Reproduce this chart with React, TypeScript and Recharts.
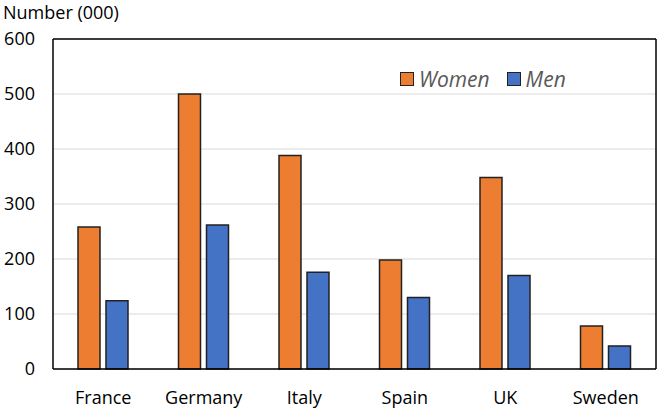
import React from "react";
import {
  BarChart,
  Bar,
  XAxis,
  YAxis,
  CartesianGrid,
  Legend,
  ReferenceLine,
} from "recharts";

const countries = ["France", "Germany", "Italy", "Spain", "UK", "Sweden"];
const women = [258, 500, 388, 198, 348, 78];
const men = [124, 262, 176, 130, 170, 42];
const majorTicks = [0, 100, 200, 300, 400, 500, 600];
const minorTicks = [50, 150, 250, 350, 450, 550];

const data = countries.map((country, i) => ({
  country,
  Women: women[i],
  Men: men[i],
}));

const FONT = "'Open Sans', sans-serif";
const ORANGE = "#ED7D31";
const BLUE = "#4472C4";

const LegendContent = () => (
  <div style={{ display: "flex", fontFamily: FONT, fontSize: 21, fontStyle: "italic", color: "#595959", lineHeight: "24px" }}>
    {[
      { name: "Women", color: ORANGE },
      { name: "Men", color: BLUE },
    ].map((item) => (
      <div key={item.name} style={{ display: "flex", alignItems: "center", marginRight: 17 }}>
        <span
          style={{
            display: "inline-block",
            width: 12,
            height: 12,
            background: item.color,
            border: "1.5px solid #222",
            marginRight: 5,
          }}
        />
        {item.name}
      </div>
    ))}
  </div>
);

const AxisTitle = (props: any) => {
  const { viewBox } = props;
  return (
    <text x={3} y={viewBox.y - 20} fontFamily={FONT} fontSize={18} fill="#000">
      Number (000)
    </text>
  );
};

export default function App() {
  return (
    <div style={{ position: "absolute", left: 0, top: 0 }}>
      <BarChart
        width={657}
        height={409}
        data={data}
        margin={{ top: 39, right: 0, bottom: 0, left: 0 }}
        barSize={22}
        barGap={6}
      >
        <CartesianGrid vertical={false} stroke="#d9d9d9" strokeWidth={1} />
        <XAxis
          dataKey="country"
          height={40}
          tickLine={false}
          tickSize={0}
          tickMargin={22}
          axisLine={{ stroke: "#000", strokeWidth: 1.5 }}
          tick={{ fontFamily: FONT, fontSize: 18, fill: "#000" }}
        />
        <YAxis
          width={53}
          domain={[0, 600]}
          ticks={majorTicks}
          interval={0}
          tickLine={false}
          tickSize={0}
          tickMargin={18}
          axisLine={{ stroke: "#000", strokeWidth: 1.5 }}
          tick={{ fontFamily: FONT, fontSize: 18, fill: "#000" }}
          label={<AxisTitle />}
        />
        <YAxis
          yAxisId="minor"
          domain={[0, 600]}
          ticks={minorTicks}
          interval={0}
          mirror
          width={0}
          axisLine={false}
          tickSize={6}
          tickLine={{ stroke: "#333", strokeWidth: 1.5 }}
          tickFormatter={() => ""}
        />
        <YAxis
          yAxisId="right"
          orientation="right"
          width={1}
          domain={[0, 600]}
          tick={false}
          tickLine={false}
          axisLine={{ stroke: "#000", strokeWidth: 1.5 }}
        />
        <ReferenceLine y={600} stroke="#000" strokeWidth={1.5} />
        <Legend
          verticalAlign="middle"
          align="center"
          content={<LegendContent />}
          wrapperStyle={{ top: 67, left: 400, width: "auto" }}
        />
        <Bar dataKey="Women" fill={ORANGE} stroke="#222" strokeWidth={1.5} isAnimationActive={false} />
        <Bar dataKey="Men" fill={BLUE} stroke="#222" strokeWidth={1.5} isAnimationActive={false} />
      </BarChart>
    </div>
  );
}
